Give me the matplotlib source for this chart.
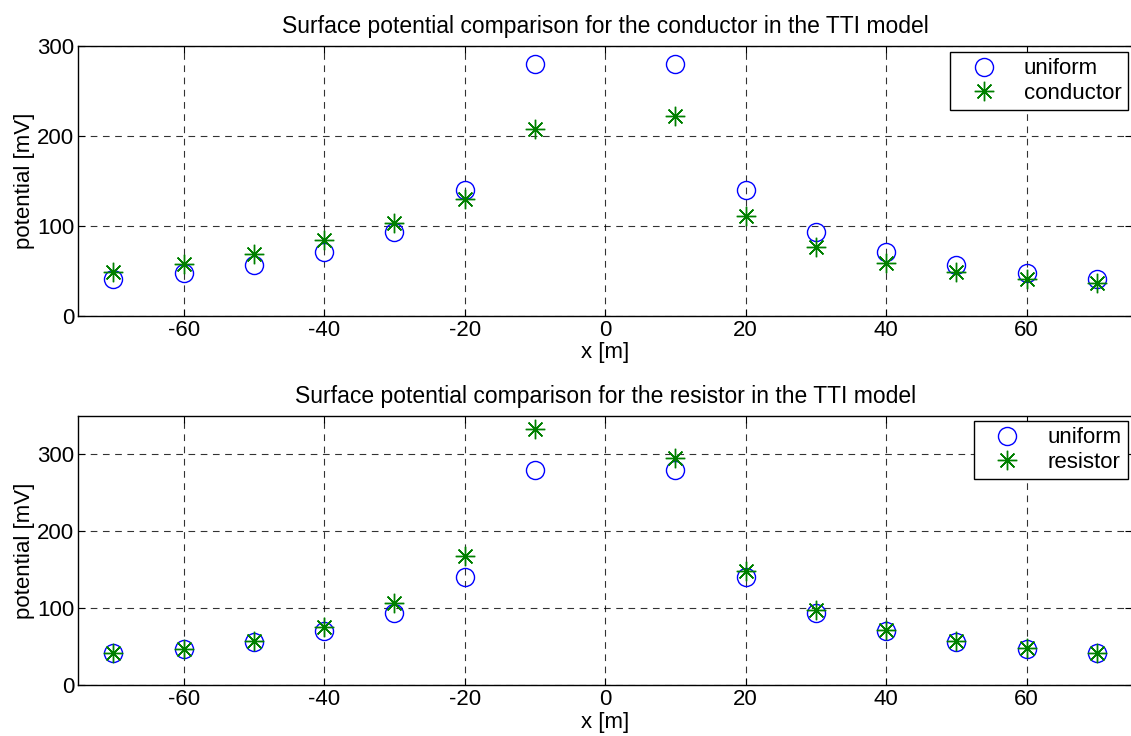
import matplotlib
matplotlib.use("Agg")
import matplotlib.pyplot as plt

x_pos = [-70, -60, -50, -40, -30, -20, -10, 10, 20, 30, 40, 50, 60, 70]
uniform = [41, 47, 56.5, 70.5, 93.5, 140, 280, 280, 140, 93.5, 70.5, 56.5, 47, 41]
conductor = [48, 57, 69, 84, 103.5, 130, 207, 222, 111, 76, 58, 48, 41, 36]
resistor = [41, 47, 57, 76, 106, 168, 333, 295, 148, 98, 72, 57, 47.5, 41]

titles = ["Surface potential comparison for the conductor in the TTI model",
          "Surface potential comparison for the resistor in the TTI model"]
series_names = ["conductor", "resistor"]
ylims = [(0, 300), (0, 350)]
yticks = [[0, 100, 200, 300], [0, 100, 200, 300]]
xticks = [-60, -40, -20, 0, 20, 40, 60]

plt.rcParams['font.family'] = ['Liberation Sans', 'DejaVu Sans']
plt.rcParams['font.size'] = 16
plt.rcParams['axes.unicode_minus'] = False

fig = plt.figure(figsize=(11.31, 7.36), dpi=100)
axes_rects = [[0.0692, 0.5711, 0.9317, 0.3668], [0.0692, 0.0693, 0.9317, 0.3659]]
legend_anchor = [(0.9962, 0.978), (0.9962, 0.981)]
second = [conductor, resistor]

for i in range(2):
    ax = fig.add_axes(axes_rects[i])
    ax.plot(x_pos, uniform, linestyle='none', marker='o', markersize=13,
            markerfacecolor='none', markeredgecolor=(0, 0, 1), markeredgewidth=1.0,
            label='uniform')
    ax.plot(x_pos, second[i], linestyle='none', marker=(8, 2, 0), markersize=14,
            color=(0, 0.5, 0), markeredgewidth=1.0, label=series_names[i])
    ax.set_xlim(-75, 75)
    ax.set_ylim(*ylims[i])
    ax.set_xticks(xticks)
    ax.set_yticks(yticks[i])
    ax.grid(True, color='black', linestyle=(0, (6, 5)), linewidth=0.8, alpha=0.8)
    ax.tick_params(direction='in', top=True, right=True, length=5, labelsize=16, pad=3)
    for s in ax.spines.values():
        s.set_linewidth(1.0)
    ax.set_title(titles[i], fontsize=16.5, pad=9)
    ax.set_xlabel('x [m]', fontsize=16, labelpad=1)
    ax.set_ylabel('potential [mV]', fontsize=16, labelpad=1)
    leg = ax.legend(loc='upper right', bbox_to_anchor=legend_anchor[i], fontsize=16,
                    fancybox=False, edgecolor='black', framealpha=1,
                    borderaxespad=0, borderpad=0.3, handletextpad=0.6,
                    labelspacing=0.15, handlelength=2.4)
    leg.get_frame().set_linewidth(1.0)

fig.savefig('out.png', dpi=100)
